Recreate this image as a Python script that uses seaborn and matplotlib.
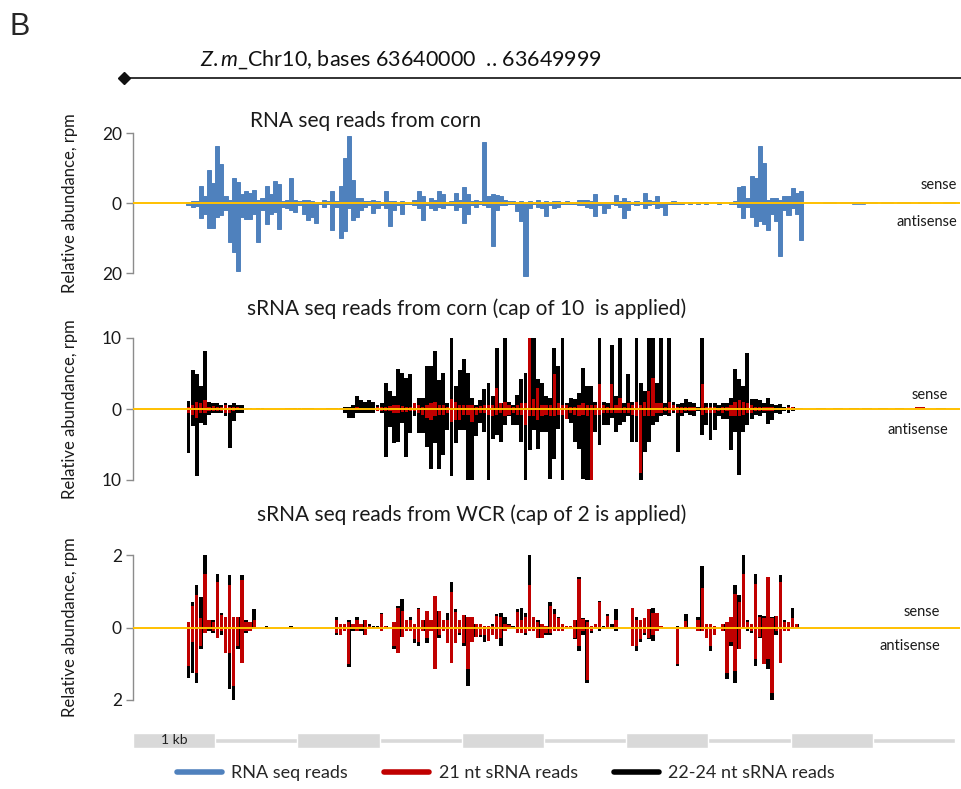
import numpy as np
import matplotlib
matplotlib.use("Agg")
import matplotlib.pyplot as plt
from matplotlib.lines import Line2D
import seaborn as sns

# ---------------- data (50-bp bins along Z.m Chr10 63640000..63649999) ----------------
BIN_BP = 50
TRACK_START_BIN = 13          # first bin of every dense track list below
REGION_BP = 10000

# RNA seq reads from corn (rpm), bins 13..162
rna_sense = [
    0.3, 0.5, 0.6, 4.8, 2.0, 9.5, 5.7, 16.2, 11.0, 2.0,
    1.0, 7.1, 6.0, 2.5, 3.5, 3.0, 3.8, 1.0, 1.5, 4.8,
    2.5, 6.2, 5.5, 0.5, 1.0, 7.0, 1.0, 0.5, 0.8, 0.8,
    0.5, 0.3, 0.3, 0.8, 0.5, 3.3, 0.5, 5.0, 12.9, 19.2,
    6.7, 1.4, 1.4, 0.5, 0.5, 0.8, 0.5, 0.3, 3.3, 0.5,
    0.5, 0.3, 0.5, 0.3, 0.3, 0.8, 3.3, 2.0, 0.3, 1.4,
    1.0, 3.3, 2.5, 0.3, 0.5, 3.0, 1.0, 4.6, 2.5, 0.5,
    1.0, 0.5, 17.3, 2.0, 2.5, 2.4, 2.0, 1.0, 0.5, 0.5,
    0.3, 0.5, 0.3, 0.5, 0.3, 0.8, 0.3, 0.5, 0.3, 0.5,
    0.5, 0.3, 0.5, 0.3, 0.3, 1.0, 0.8, 0.8, 0.5, 2.7,
    0.3, 0.3, 0.3, 0.3, 2.4, 0.5, 1.5, 0.5, 0.3, 0.5,
    0.3, 2.9, 1.0, 0.5, 1.9, 0.3, 0.3, 0.3, 0.5, 0.3,
    0.4, 0.0, 0.3, 0.0, 0.3, 0.0, 0.3, 0.0, 0.0, 0.3,
    0.0, 0.0, 0.3, 0.5, 4.5, 4.8, 1.5, 7.6, 7.0, 16.2,
    11.4, 1.0, 1.5, 1.5, 1.0, 2.0, 2.0, 4.3, 3.0, 3.5,
]
rna_antisense = [
    0.5, 1.0, 0.8, 4.3, 3.0, 7.0, 7.0, 4.0, 3.5, 2.0,
    11.0, 14.0, 19.5, 4.0, 4.5, 4.5, 3.0, 11.0, 2.0, 6.0,
    3.0, 2.5, 7.4, 1.0, 1.5, 2.0, 2.5, 0.5, 3.0, 4.8,
    4.0, 5.7, 0.3, 1.0, 0.3, 7.6, 1.0, 10.0, 8.0, 1.5,
    4.8, 4.0, 2.0, 1.0, 0.5, 2.9, 1.5, 0.5, 1.5, 6.7,
    2.0, 0.5, 3.0, 0.3, 0.3, 0.5, 1.5, 4.8, 0.5, 1.5,
    2.0, 1.0, 1.5, 0.5, 0.5, 2.0, 1.0, 5.7, 3.0, 0.5,
    1.0, 0.3, 0.5, 1.0, 12.4, 2.0, 0.5, 0.5, 0.3, 0.3,
    2.4, 5.0, 20.8, 1.5, 0.3, 1.0, 1.5, 3.8, 0.5, 1.5,
    1.0, 0.3, 0.3, 0.3, 0.3, 0.5, 0.5, 1.0, 1.5, 3.8,
    0.5, 2.9, 1.5, 0.3, 0.5, 1.0, 4.3, 2.0, 0.3, 0.5,
    0.3, 1.5, 0.5, 0.3, 1.5, 1.0, 3.3, 0.3, 0.3, 0.2,
    0.2, 0.0, 0.2, 0.0, 0.3, 0.0, 0.2, 0.0, 0.0, 0.2,
    0.0, 0.0, 0.3, 0.3, 1.0, 4.3, 1.0, 4.0, 6.7, 5.0,
    6.0, 7.6, 3.0, 5.0, 15.2, 2.0, 3.5, 1.5, 3.0, 10.5,
]
rna_tail_bins = [169, 173, 176, 179, 183, 187, 192, 198]
rna_tail_sense = [0.3, 0.3, 0.3, 0.3, 0.3, 0.3, 0.3, 0.3]
rna_tail_antisense = [0.0, 0.0, 0.3, 0.0, 0.0, 0.0, 0.0, 0.0]

# sRNA seq reads from corn (rpm, cap 10), bins 13..162
corn_2224_sense = [
    1.1, 5.5, 5.0, 3.2, 8.1, 1.0, 0.8, 0.8, 0.6, 0.8,
    0.6, 0.8, 0.5, 0.6, 0.2, 0.2, 0.0, 0.2, 0.15, 0.0,
    0.0, 0.0, 0.0, 0.0, 0.2, 0.2, 0.2, 0.2, 0.2, 0.2,
    0.1, 0.0, 0.0, 0.0, 0.2, 0.2, 0.2, 0.2, 0.3, 0.3,
    0.5, 1.9, 1.3, 1.0, 1.3, 1.0, 0.6, 0.8, 3.7, 2.5,
    1.8, 5.6, 5.1, 4.4, 4.9, 0.8, 1.5, 1.5, 6.0, 6.0,
    8.1, 4.1, 5.1, 0.8, 10, 3.3, 5.5, 7.0, 5.1, 1.5,
    0.6, 1.3, 2.8, 3.7, 1.9, 8.6, 0.8, 10, 1.0, 0.5,
    2.0, 4.2, 5.1, 10, 10, 4.2, 3.7, 1.9, 1.5, 8.6,
    6.0, 10, 0.8, 1.5, 1.4, 2.3, 5.8, 3.3, 3.3, 1.0,
    10, 1.0, 0.8, 9.0, 1.8, 10, 0.8, 4.9, 1.0, 10,
    3.7, 2.5, 10, 10, 3.7, 10, 0.8, 10, 1.0, 0.7,
    0.8, 1.4, 1.0, 0.8, 0.3, 10, 0.8, 0.8, 0.8, 0.5,
    0.8, 0.8, 1.5, 5.6, 4.2, 3.3, 7.9, 1.4, 1.4, 1.2,
    0.9, 1.6, 0.7, 0.5, 0.7, 0.3, 0.5, 0.3, 0.1, 0.0,
]
corn_2224_antisense = [
    6.2, 2.4, 9.5, 2.0, 2.2, 0.8, 0.6, 0.6, 0.5, 1.0,
    5.5, 1.7, 0.6, 0.5, 0.1, 0.0, 0.0, 0.0, 0.0, 0.0,
    0.0, 0.0, 0.0, 0.0, 0.0, 0.0, 0.0, 0.0, 0.0, 0.0,
    0.0, 0.0, 0.0, 0.0, 0.0, 0.0, 0.0, 0.0, 0.5, 1.3,
    1.2, 0.6, 0.6, 0.6, 0.5, 0.5, 0.3, 0.6, 6.7, 2.5,
    4.8, 4.7, 2.0, 6.7, 3.4, 1.0, 3.4, 3.4, 5.3, 8.4,
    4.8, 8.5, 6.5, 2.9, 9.5, 4.8, 2.9, 3.0, 10, 10,
    3.8, 2.0, 3.3, 10, 4.2, 3.7, 4.7, 2.3, 1.0, 2.3,
    2.3, 4.7, 10, 5.8, 3.0, 5.6, 3.3, 3.3, 9.8, 7.0,
    2.8, 10, 1.4, 2.0, 4.7, 5.6, 9.8, 10, 10, 3.3,
    5.1, 2.3, 2.3, 1.2, 3.3, 2.3, 1.8, 1.0, 4.7, 4.7,
    10, 6.0, 4.7, 2.3, 1.8, 1.0, 0.8, 1.0, 0.5, 6.0,
    1.0, 0.5, 0.8, 1.0, 0.3, 3.7, 2.3, 4.4, 3.0, 1.0,
    1.4, 1.4, 5.8, 3.3, 9.3, 3.3, 2.3, 1.4, 0.8, 1.0,
    0.5, 2.1, 1.6, 0.5, 0.7, 0.3, 0.6, 0.3, 0.0, 0.0,
]
corn_21_sense = [
    0.3, 0.5, 1.0, 0.8, 1.3, 0.3, 0.4, 0.3, 0.3, 0.5,
    0.3, 0.3, 0.3, 0.2, 0.2, 0.2, 0.0, 0.0, 0.0, 0.0,
    0.0, 0.0, 0.0, 0.0, 0.2, 0.2, 0.0, 0.0, 0.0, 0.0,
    0.0, 0.0, 0.0, 0.0, 0.0, 0.0, 0.0, 0.0, 0.0, 0.0,
    0.2, 0.3, 0.2, 0.0, 0.0, 0.0, 0.3, 0.3, 0.3, 0.4,
    0.5, 0.5, 0.4, 0.3, 0.3, 0.8, 0.5, 0.3, 0.5, 0.8,
    1.0, 0.5, 0.6, 0.3, 1.4, 1.0, 0.5, 0.6, 0.5, 0.5,
    0.3, 0.4, 0.5, 0.5, 0.5, 3.0, 0.8, 1.0, 0.5, 0.3,
    0.5, 0.8, 0.8, 10, 1.4, 3.0, 0.5, 0.5, 0.5, 4.9,
    0.8, 0.5, 0.5, 0.3, 0.3, 0.5, 0.8, 0.5, 0.5, 0.5,
    3.5, 0.5, 0.3, 3.5, 0.5, 1.6, 0.3, 0.8, 0.5, 1.0,
    0.5, 1.0, 2.6, 4.4, 0.8, 0.8, 0.3, 1.0, 0.5, 0.3,
    0.3, 0.3, 0.3, 0.3, 0.0, 3.5, 0.3, 0.3, 0.3, 0.2,
    0.3, 0.3, 0.5, 1.0, 1.2, 1.0, 0.8, 0.5, 0.3, 0.3,
    0.3, 0.3, 0.3, 0.2, 0.2, 0.2, 0.3, 0.3, 0.2, 0.2,
]
corn_21_antisense = [
    0.5, 0.8, 1.2, 0.6, 0.5, 0.3, 0.3, 0.3, 0.3, 0.5,
    0.5, 0.3, 0.2, 0.2, 0.0, 0.0, 0.0, 0.0, 0.0, 0.0,
    0.0, 0.0, 0.0, 0.0, 0.0, 0.0, 0.0, 0.0, 0.0, 0.0,
    0.0, 0.0, 0.0, 0.0, 0.0, 0.0, 0.0, 0.0, 0.0, 0.0,
    0.2, 0.2, 0.2, 0.0, 0.0, 0.0, 0.3, 0.3, 0.3, 0.3,
    0.6, 0.5, 0.4, 0.4, 0.3, 0.3, 0.5, 0.8, 1.2, 1.5,
    1.0, 0.8, 0.8, 0.5, 1.9, 1.5, 1.5, 0.8, 0.8, 1.9,
    0.8, 0.5, 0.5, 0.8, 1.0, 0.8, 0.6, 1.0, 0.8, 0.5,
    0.8, 0.8, 2.3, 1.0, 1.0, 1.5, 1.0, 0.8, 1.0, 1.0,
    0.8, 0.8, 1.4, 0.5, 0.8, 1.0, 0.8, 1.0, 10, 0.8,
    0.8, 0.5, 0.5, 0.5, 0.5, 0.5, 0.5, 0.5, 0.8, 1.0,
    9.0, 1.0, 1.0, 1.0, 0.5, 0.5, 0.3, 0.5, 0.3, 0.5,
    0.5, 0.3, 0.3, 0.3, 0.0, 0.8, 0.5, 0.5, 0.5, 0.3,
    0.5, 0.3, 1.0, 1.0, 1.0, 0.8, 0.5, 0.5, 0.3, 0.3,
    0.3, 0.3, 0.3, 0.2, 0.2, 0.1, 0.1, 0.1, 0.0, 0.0,
]
corn_tail_bins = [167, 171, 175, 178, 182, 186, 191, 196]
corn_tail_2224_sense = [0.2, 0.2, 0.2, 0.2, 0.2, 0.2, 0.0, 0.2]
corn_tail_21_sense = [0.0, 0.0, 0.0, 0.0, 0.0, 0.0, 0.3, 0.0]

# sRNA seq reads from WCR (rpm, cap 2), bins 13..162
wcr_2224_sense = [
    0.15, 0.7, 1.16, 0.83, 2.0, 0.2, 0.2, 1.48, 0.4, 0.3,
    1.44, 0.3, 0.3, 1.44, 0.2, 0.15, 0.5, 0.0, 0.0, 0.05,
    0.0, 0.0, 0.0, 0.0, 0.0, 0.05, 0.0, 0.0, 0.0, 0.0,
    0.0, 0.0, 0.0, 0.0, 0.0, 0.0, 0.3, 0.1, 0.1, 0.2,
    0.1, 0.3, 0.1, 0.2, 0.1, 0.05, 0.05, 0.4, 0.05, 0.0,
    0.15, 0.6, 0.8, 0.2, 0.3, 0.1, 0.55, 0.2, 0.45, 0.2,
    0.88, 0.45, 0.2, 0.4, 1.25, 0.5, 0.2, 0.35, 0.3, 0.3,
    0.1, 0.1, 0.05, 0.05, 0.1, 0.37, 0.4, 0.3, 0.1, 0.05,
    0.5, 0.55, 0.4, 2.0, 0.3, 0.2, 0.1, 0.05, 0.7, 0.5,
    0.3, 0.1, 0.05, 0.05, 0.2, 1.4, 0.25, 0.2, 0.05, 0.1,
    0.74, 0.05, 0.37, 0.1, 0.5, 0.0, 0.0, 0.0, 0.55, 0.3,
    0.2, 0.25, 0.5, 0.55, 0.4, 0.05, 0.0, 0.0, 0.0, 0.05,
    0.0, 0.37, 0.0, 0.0, 0.3, 1.7, 0.1, 0.1, 0.05, 0.0,
    0.1, 0.15, 0.3, 1.16, 0.9, 2.0, 0.2, 0.1, 1.48, 0.35,
    0.33, 1.39, 0.3, 0.33, 1.44, 0.2, 0.15, 0.53, 0.1, 0.0,
]
wcr_2224_antisense = [
    1.4, 1.25, 1.53, 0.6, 0.14, 0.1, 0.15, 0.3, 0.2, 0.7,
    1.7, 2.0, 0.6, 0.97, 0.15, 0.1, 0.05, 0.0, 0.0, 0.0,
    0.0, 0.0, 0.0, 0.0, 0.0, 0.0, 0.0, 0.0, 0.0, 0.0,
    0.0, 0.0, 0.0, 0.0, 0.0, 0.0, 0.2, 0.2, 0.1, 1.1,
    0.1, 0.1, 0.1, 0.2, 0.05, 0.0, 0.0, 0.1, 0.0, 0.0,
    0.6, 0.7, 0.25, 0.1, 0.1, 0.42, 0.5, 0.1, 0.42, 0.1,
    1.15, 0.28, 0.1, 0.42, 0.97, 0.42, 0.2, 0.5, 1.6, 0.4,
    0.25, 0.25, 0.4, 0.37, 0.2, 0.33, 0.5, 0.1, 0.05, 0.0,
    0.14, 0.14, 0.2, 0.1, 0.1, 0.3, 0.3, 0.2, 0.2, 0.1,
    0.1, 0.1, 0.0, 0.0, 0.33, 0.65, 0.2, 1.53, 0.15, 0.0,
    0.1, 0.0, 0.05, 0.0, 0.1, 0.0, 0.0, 0.0, 0.5, 0.65,
    0.4, 0.2, 0.33, 0.37, 0.1, 0.0, 0.0, 0.0, 0.0, 1.06,
    0.0, 0.0, 0.0, 0.0, 0.1, 0.1, 0.3, 0.65, 0.2, 0.0,
    0.1, 1.43, 0.5, 1.53, 0.6, 0.05, 0.1, 0.15, 1.06, 0.3,
    1.0, 1.15, 2.0, 0.2, 0.97, 0.1, 0.1, 0.05, 0.0, 0.0,
]
wcr_21_sense = [
    0.15, 0.6, 0.9, 0.25, 1.48, 0.2, 0.15, 1.25, 0.35, 0.3,
    1.16, 0.3, 0.3, 1.3, 0.15, 0.15, 0.2, 0.0, 0.0, 0.0,
    0.0, 0.0, 0.0, 0.0, 0.0, 0.0, 0.0, 0.0, 0.0, 0.0,
    0.0, 0.0, 0.0, 0.0, 0.0, 0.0, 0.2, 0.1, 0.1, 0.15,
    0.1, 0.2, 0.1, 0.2, 0.05, 0.0, 0.0, 0.37, 0.05, 0.0,
    0.15, 0.55, 0.45, 0.2, 0.2, 0.1, 0.5, 0.2, 0.45, 0.2,
    0.88, 0.45, 0.2, 0.2, 0.97, 0.42, 0.2, 0.35, 0.3, 0.3,
    0.1, 0.1, 0.05, 0.05, 0.05, 0.33, 0.28, 0.1, 0.07, 0.0,
    0.42, 0.2, 0.3, 1.16, 0.28, 0.15, 0.1, 0.05, 0.6, 0.37,
    0.25, 0.1, 0.05, 0.05, 0.2, 1.35, 0.23, 0.15, 0.05, 0.1,
    0.7, 0.0, 0.33, 0.0, 0.2, 0.0, 0.0, 0.0, 0.55, 0.2,
    0.2, 0.25, 0.5, 0.4, 0.4, 0.05, 0.0, 0.0, 0.0, 0.0,
    0.0, 0.18, 0.0, 0.0, 0.2, 1.1, 0.1, 0.1, 0.05, 0.0,
    0.1, 0.14, 0.3, 0.92, 0.7, 1.48, 0.15, 0.1, 1.2, 0.3,
    0.25, 1.39, 0.25, 0.33, 1.25, 0.15, 0.15, 0.25, 0.1, 0.0,
]
wcr_21_antisense = [
    1.06, 0.4, 1.25, 0.5, 0.14, 0.05, 0.1, 0.3, 0.1, 0.7,
    0.7, 1.6, 0.5, 0.97, 0.1, 0.1, 0.05, 0.0, 0.0, 0.0,
    0.0, 0.0, 0.0, 0.0, 0.0, 0.0, 0.0, 0.0, 0.0, 0.0,
    0.0, 0.0, 0.0, 0.0, 0.0, 0.0, 0.15, 0.2, 0.1, 1.0,
    0.05, 0.1, 0.05, 0.2, 0.0, 0.0, 0.0, 0.1, 0.0, 0.0,
    0.5, 0.7, 0.25, 0.1, 0.1, 0.33, 0.4, 0.1, 0.3, 0.1,
    1.15, 0.2, 0.1, 0.42, 0.97, 0.42, 0.15, 0.42, 1.15, 0.4,
    0.25, 0.2, 0.2, 0.37, 0.2, 0.33, 0.3, 0.1, 0.0, 0.0,
    0.14, 0.14, 0.15, 0.1, 0.1, 0.3, 0.28, 0.15, 0.15, 0.1,
    0.1, 0.1, 0.0, 0.0, 0.28, 0.5, 0.1, 1.45, 0.1, 0.0,
    0.05, 0.0, 0.0, 0.0, 0.05, 0.0, 0.0, 0.0, 0.5, 0.5,
    0.33, 0.15, 0.3, 0.2, 0.1, 0.0, 0.0, 0.0, 0.0, 1.0,
    0.0, 0.0, 0.0, 0.0, 0.1, 0.1, 0.3, 0.5, 0.2, 0.0,
    0.1, 1.25, 0.4, 1.2, 0.6, 0.05, 0.05, 0.1, 0.88, 0.25,
    1.0, 0.88, 1.8, 0.1, 0.97, 0.1, 0.1, 0.0, 0.0, 0.0,
]

panel_titles = [
    "RNA seq reads from corn",
    "sRNA seq reads from corn (cap of 10  is applied)",
    "sRNA seq reads from WCR (cap of 2 is applied)",
]
panel_caps = [20, 10, 2]
scale_boxes_kb = [0, 2, 4, 6, 8]          # filled 1-kb blocks of the scale bar
legend_labels = ["RNA seq reads", "21 nt sRNA reads", "22-24 nt sRNA reads"]

BLUE = "#4F81BD"
RED = "#C00000"
BLACK = "#000000"
ZERO = "#FFC000"

# ---------------- figure ----------------
sns.set_theme(style="white")
plt.rcParams["font.family"] = ["Lato", "DejaVu Sans"]
plt.rcParams["mathtext.fontset"] = "custom"
plt.rcParams["mathtext.rm"] = "Lato"
plt.rcParams["mathtext.it"] = "Lato:italic"

W, H = 962, 789
fig = plt.figure(figsize=(W / 100, H / 100), dpi=100)


def fx(px):
    return px / W


def fy(py):
    return 1 - py / H


def bin_pos(bins):
    return np.asarray(bins) * BIN_BP + BIN_BP / 2


def dense_pos(values):
    return bin_pos(TRACK_START_BIN + np.arange(len(values)))


def bars(ax, pos, vals, color, width, sign, edge=0.0):
    sns.barplot(x=np.asarray(pos, float), y=sign * np.asarray(vals, float),
                native_scale=True, color=color, saturation=1, width=width,
                errorbar=None, linewidth=edge, edgecolor=color, ax=ax)


AX_L, AX_R = 133, 960
XMAX = REGION_BP * (AX_R - AX_L) / 822.0
panel_rows = [(133, 273), (338, 480), (555, 700)]
axes = []
for (top, bot) in panel_rows:
    ax = fig.add_axes([fx(AX_L), fy(bot), fx(AX_R - AX_L), (bot - top) / H])
    axes.append(ax)

# panel 1: RNA seq (contiguous bins, drawn edge-to-edge like an area)
ax = axes[0]
bars(ax, dense_pos(rna_sense), rna_sense, BLUE, 1.0, 1, edge=0.7)
bars(ax, dense_pos(rna_antisense), rna_antisense, BLUE, 1.0, -1, edge=0.7)
bars(ax, bin_pos(rna_tail_bins), rna_tail_sense, BLUE, 1.0, 1, edge=0.5)
bars(ax, bin_pos(rna_tail_bins), rna_tail_antisense, BLUE, 1.0, -1, edge=0.5)
for p in ax.patches:
    p.set_clip_on(False)

# panel 2: corn sRNA
ax = axes[1]
bars(ax, dense_pos(corn_2224_sense), corn_2224_sense, BLACK, 0.95, 1)
bars(ax, dense_pos(corn_2224_antisense), corn_2224_antisense, BLACK, 0.95, -1)
bars(ax, bin_pos(corn_tail_bins), corn_tail_2224_sense, BLACK, 0.8, 1)
bars(ax, dense_pos(corn_21_sense), corn_21_sense, RED, 0.8, 1)
bars(ax, dense_pos(corn_21_antisense), corn_21_antisense, RED, 0.8, -1)
bars(ax, bin_pos(corn_tail_bins), corn_tail_21_sense, RED, 0.8, 1)

# panel 3: WCR sRNA
ax = axes[2]
bars(ax, dense_pos(wcr_2224_sense), wcr_2224_sense, BLACK, 0.85, 1)
bars(ax, dense_pos(wcr_2224_antisense), wcr_2224_antisense, BLACK, 0.85, -1)
bars(ax, dense_pos(wcr_21_sense), wcr_21_sense, RED, 0.8, 1)
bars(ax, dense_pos(wcr_21_antisense), wcr_21_antisense, RED, 0.8, -1)

sense_x = [957, 948, 940]
sense_y = [(185, 222), (395, 430), (612, 646)]
title_xy = [(250, 121), (247, 309), (257, 515)]
for i, ax in enumerate(axes):
    cap = panel_caps[i]
    ax.axhline(0, color=ZERO, lw=1.4, zorder=10)
    ax.set_xlim(0, XMAX)
    ax.set_ylim(-cap, cap)
    ax.set_yticks([-cap, 0, cap])
    ax.set_yticklabels([str(cap), "0", str(cap)])
    ax.set_xticks([])
    ax.set_xlabel("")
    for s in ["top", "right", "bottom"]:
        ax.spines[s].set_visible(False)
    ax.spines["left"].set_color("#8C8C8C")
    ax.spines["left"].set_linewidth(1.0)
    ax.tick_params(axis="y", left=True, length=5, width=1.0, color="#8C8C8C",
                   labelsize=12.5, pad=3, labelcolor="#1a1a1a")
    ax.set_ylabel("Relative abundance, rpm", fontsize=12, color="#1a1a1a")
    ax.yaxis.set_label_coords(-0.0665, 0.5)
    ax.patch.set_alpha(0)
    fig.text(fx(sense_x[i]), fy(sense_y[i][0]), "sense", ha="right", va="center",
             fontsize=10.5, color="#1a1a1a")
    fig.text(fx(sense_x[i]), fy(sense_y[i][1]), "antisense", ha="right", va="center",
             fontsize=10.5, color="#1a1a1a")
    fig.text(fx(title_xy[i][0]), fy(title_xy[i][1]), panel_titles[i], ha="left",
             va="center", fontsize=15, color="#1a1a1a")

# header
fig.text(fx(10), fy(27), "B", fontsize=22, family=["Liberation Sans", "DejaVu Sans"],
         ha="left", va="center")
fig.text(fx(200), fy(60), r"$\it{Z.m}$_Chr10, bases 63640000  .. 63649999",
         fontsize=15.5, ha="left", va="center", color="#111111")
fig.add_artist(Line2D([fx(124), fx(962)], [fy(78), fy(78)], color="#222222", lw=1.3))
fig.add_artist(Line2D([fx(124)], [fy(78)], marker="D", markersize=6, color="#111111"))

# scale bar
sax = fig.add_axes([fx(AX_L), fy(752), fx(AX_R - AX_L), 22 / H])
sax.set_xlim(0, XMAX)
sax.set_ylim(0, 1)
sax.axis("off")
sax.broken_barh([(0, REGION_BP)], (0.41, 0.23), facecolors="#D9D9D9")
sax.broken_barh([(k * 1000, 1000) for k in scale_boxes_kb], (0.2, 0.66),
                facecolors="#D9D9D9")
sax.text(500, 0.53, "1 kb", ha="center", va="center", fontsize=10, color="#222222")

# legend
handles = [Line2D([0], [0], color=c, lw=4) for c in [BLUE, RED, BLACK]]
fig.legend(handles, legend_labels, loc="center", bbox_to_anchor=(fx(506), fy(773)),
           ncol=3, frameon=False, fontsize=13, handlelength=2.5, columnspacing=2.0,
           handletextpad=0.5)

fig.savefig("out.png", dpi=100)
